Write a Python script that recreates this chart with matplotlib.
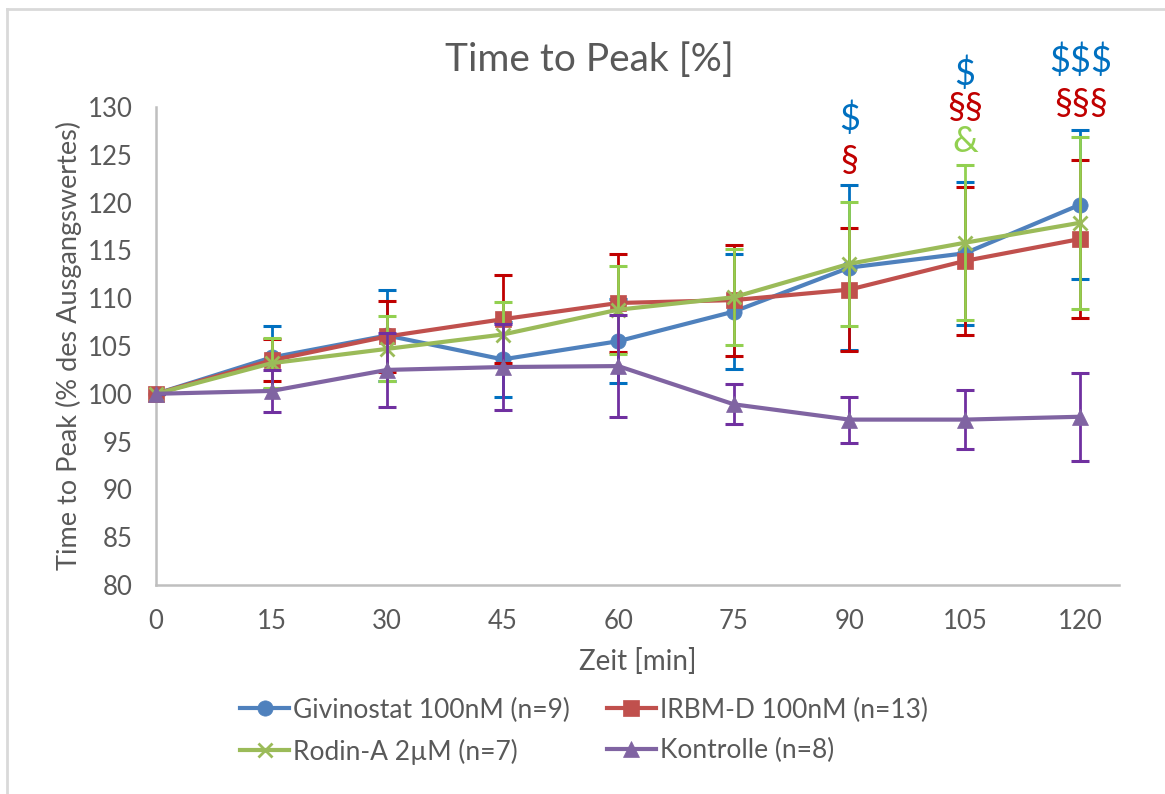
import matplotlib
matplotlib.use("Agg")
import matplotlib.pyplot as plt
from matplotlib.lines import Line2D

plt.rcParams['font.family'] = ['Lato', 'DejaVu Sans']

# ---- data ----
zeit = [0, 15, 30, 45, 60, 75, 90, 105, 120]
givinostat = [100, 103.8, 106.1, 103.6, 105.5, 108.6, 113.2, 114.7, 119.8]
givinostat_err = [0, 3.3, 4.8, 3.9, 4.4, 6.0, 8.6, 7.5, 7.8]
irbm = [100, 103.5, 106.0, 107.8, 109.5, 109.8, 110.9, 113.9, 116.2]
irbm_err = [0, 2.2, 3.7, 4.6, 5.1, 5.8, 6.4, 7.7, 8.3]
rodin = [100, 103.2, 104.7, 106.2, 108.8, 110.1, 113.6, 115.8, 117.9]
rodin_err = [0, 2.6, 3.4, 3.4, 4.6, 5.0, 6.5, 8.1, 9.0]
kontrolle = [100, 100.3, 102.5, 102.8, 102.9, 98.9, 97.3, 97.3, 97.6]
kontrolle_err = [0, 2.2, 3.9, 4.5, 5.3, 2.1, 2.4, 3.1, 4.6]

labels = ["Givinostat 100nM (n=9)", "IRBM-D 100nM (n=13)",
          "Rodin-A 2µM (n=7)", "Kontrolle (n=8)"]
yticks = [80, 85, 90, 95, 100, 105, 110, 115, 120, 125, 130]
xticks = [0, 15, 30, 45, 60, 75, 90, 105, 120]

# significance marks
sig_90 = ["$", "§"]
sig_105 = ["$", "§§", "&"]
sig_120 = ["$$$", "§§§"]

# ---- styles ----
line_cols = ["#4F81BD", "#C0504D", "#9BBB59", "#8064A2"]
err_cols = ["#0070C0", "#C00000", "#92D050", "#7030A0"]
markers = ["o", "s", "x", "^"]
txt = "#595959"
sym_col = {"$": "#0070C0", "§": "#C00000", "&": "#92D050"}

fig = plt.figure(figsize=(11.65, 7.94), dpi=100)
ax = fig.add_axes([156/1165, 1-585/794, (1119-156)/1165, (585-107)/794])

series = [(givinostat, givinostat_err), (irbm, irbm_err),
          (rodin, rodin_err), (kontrolle, kontrolle_err)]

for i, (vals, errs) in enumerate(series):
    z = 3 + i
    ax.errorbar(zeit, vals, yerr=errs, fmt='none', ecolor=err_cols[i],
                elinewidth=2.0, capsize=6.5, capthick=2.2, zorder=z)
    ms = 11 if markers[i] != "x" else 10
    ax.plot(zeit, vals, color=line_cols[i], lw=3.0, marker=markers[i],
            markersize=ms, markeredgewidth=2.0 if markers[i] == "x" else 0.5,
            markeredgecolor=line_cols[i], zorder=z + 0.5, clip_on=False)

ax.set_xlim(0, 125)
ax.set_ylim(80, 130)
ax.set_xticks(xticks)
ax.set_yticks(yticks)
ax.tick_params(axis='both', length=0, labelsize=18.5, colors=txt)
ax.tick_params(axis='x', pad=17)
ax.tick_params(axis='y', pad=17)
for s in ["top", "right"]:
    ax.spines[s].set_visible(False)
for s in ["left", "bottom"]:
    ax.spines[s].set_color("#BFBFBF")
    ax.spines[s].set_linewidth(1.8)

ax.set_xlabel("Zeit [min]", fontsize=20, color=txt, labelpad=10)
ax.set_ylabel("Time to Peak (% des Ausgangswertes)", fontsize=19.5, color=txt, labelpad=4)
fig.text(589/1165, 1-60/794, "Time to Peak [%]", fontsize=28, color=txt,
         ha='center', va='center')

def put(xv, yv, s):
    col = sym_col[s[0]]
    ax.text(xv, yv, s, fontsize=26, color=col, ha='center', va='center',
            clip_on=False, zorder=10)

put(zeit[6], 128.8, sig_90[0])
put(zeit[6], 124.4, sig_90[1])
put(zeit[7], 133.5, sig_105[0])
put(zeit[7], 130.0, sig_105[1])
put(zeit[7], 126.4, sig_105[2])
put(zeit[8], 134.8, sig_120[0])
put(zeit[8], 130.4, sig_120[1])

handles = []
for i in range(4):
    handles.append(Line2D([], [], color=line_cols[i], lw=3.0, marker=markers[i],
                          markersize=11 if markers[i] != "x" else 10,
                          markeredgewidth=2.0 if markers[i] == "x" else 0.5,
                          markeredgecolor=line_cols[i]))
order = [0, 2, 1, 3]
leg = fig.legend([handles[k] for k in order], [labels[k] for k in order],
                 ncol=2, loc='center', bbox_to_anchor=(584/1165, 1-731/794),
                 frameon=False, fontsize=19, handlelength=1.85, handletextpad=0.15,
                 columnspacing=1.4, labelspacing=0.6)
for t in leg.get_texts():
    t.set_color(txt)

# chart border (left and top)
fig.add_artist(Line2D([7/1165, 7/1165], [0, 1-9/794], color="#D9D9D9", lw=2,
                      transform=fig.transFigure))
fig.add_artist(Line2D([7/1165, 1], [1-9/794, 1-9/794], color="#D9D9D9", lw=2,
                      transform=fig.transFigure))

fig.savefig("out.png", dpi=100)
